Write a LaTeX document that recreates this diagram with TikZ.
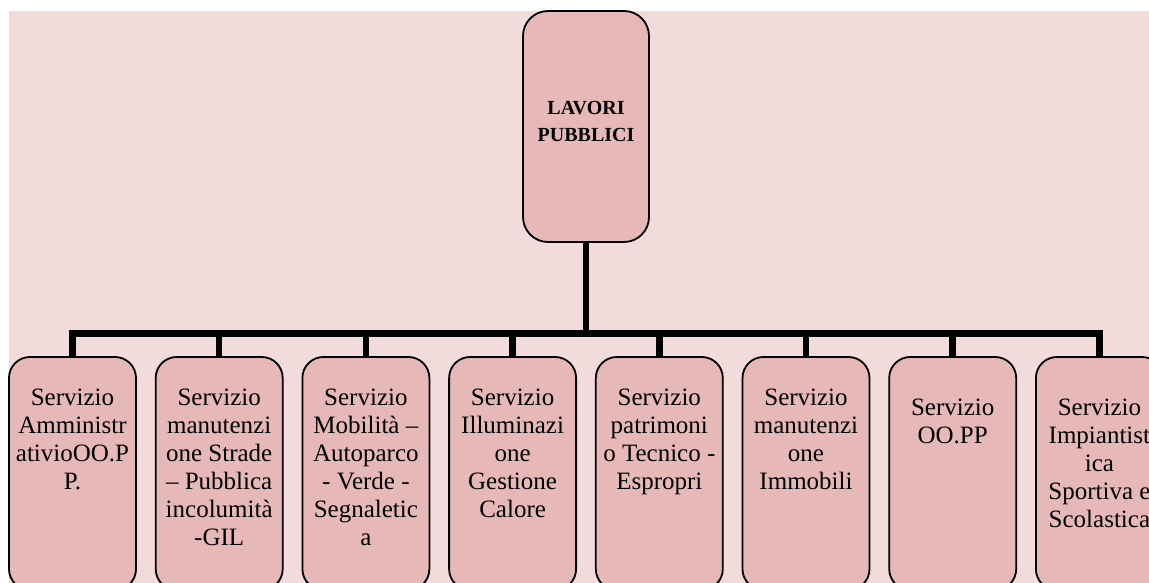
\documentclass[tikz,border=0pt]{standalone}
\usepackage{fontspec}
\setmainfont{Liberation Serif}
\definecolor{bgc}{HTML}{F2DCDB}
\definecolor{boxc}{HTML}{E6B9B8}
\tikzset{
  headbox/.style={draw=black, line width=1.8pt, fill=boxc, rounded corners=25pt,
    minimum width=126pt, minimum height=231pt, inner sep=0pt},
  subbox/.style={draw=black, line width=1.8pt, fill=boxc, rounded corners=21pt,
    minimum width=127pt, minimum height=233pt, inner sep=0pt},
  headtxt/.style={align=center, inner sep=0pt, font=\fontsize{20}{27}\selectfont\bfseries},
  subtxt/.style={align=center, inner sep=0pt, anchor=north, font=\fontsize{25}{28}\selectfont},
  conn/.style={draw=black, line width=6.5pt}
}
\begin{document}
\begin{tikzpicture}[x=1pt,y=-1pt]
\useasboundingbox (0,0) rectangle (1149,583);
\clip (0,0) rectangle (1149,583);
\fill[bgc] (9,11) rectangle (1160,600);

\node[headbox] (top) at (586,126.5) {};
\node[headtxt] (toptxt) at (586,121.5) {LAVORI\\PUBBLICI};

\foreach \i/\cx in {1/72.5,2/219.2,3/365.9,4/512.6,5/659.3,6/806,7/952.7,8/1099.4}{
  \node[subbox] (b\i) at (\cx,473.5) {};
}

\coordinate (hub) at (586,333.5);
\draw[conn] (top.south) -- (hub);
\foreach \i in {1,...,8}{
  \draw[conn] (hub) -| (b\i.north);
}

\node[subtxt] (t1) at (72.5,389) {Servizio\\Amministr\\ativioOO.P\\P.};
\node[subtxt] (t2) at (219.2,389) {Servizio\\manutenzi\\one Strade\\– Pubblica\\incolumità\\-GIL};
\node[subtxt] (t3) at (365.9,389) {Servizio\\Mobilità –\\Autoparco\\- Verde -\\Segnaletic\\a};
\node[subtxt] (t4) at (512.6,389) {Servizio\\Illuminazi\\one\\Gestione\\Calore};
\node[subtxt] (t5) at (659.3,389) {Servizio\\patrimoni\\o Tecnico -\\Espropri};
\node[subtxt] (t6) at (806,389) {Servizio\\manutenzi\\one\\Immobili};
\node[subtxt] (t7) at (952.7,399) {Servizio\\OO.PP};
\node[subtxt] (t8) at (1099.4,399) {Servizio\\Impiantist\\ica\\Sportiva e\\Scolastica};
\end{tikzpicture}
\end{document}
